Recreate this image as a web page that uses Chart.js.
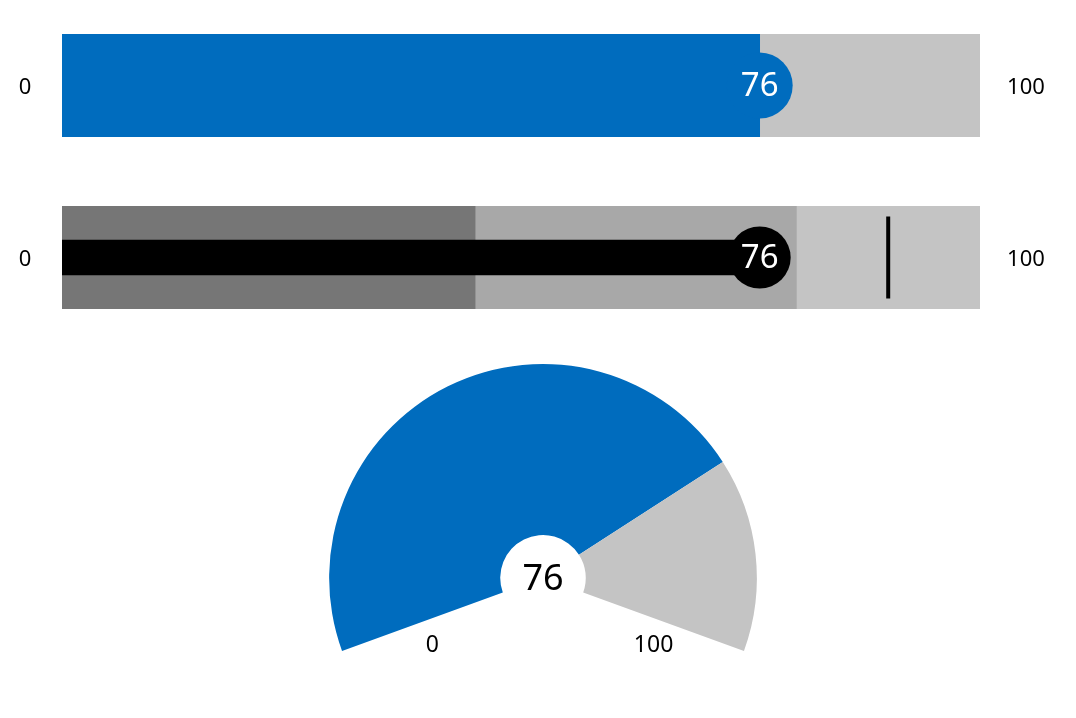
<!DOCTYPE html>
<html>
<head>
<meta charset="utf-8">
<script src="https://cdn.jsdelivr.net/npm/chart.js@4.4.0/dist/chart.umd.min.js"></script>
<style>
  body { margin: 0; background: #fff; }
  .box { position: absolute; left: 0; width: 1076px; }
</style>
</head>
<body>
<div class="box" style="top:0;height:172px"><canvas id="barGauge"></canvas></div>
<div class="box" style="top:172px;height:172px"><canvas id="bulletGauge"></canvas></div>
<div class="box" style="top:344px;height:374px"><canvas id="radialGauge"></canvas></div>
<script>
// gauge data
var minValue = 0;
var maxValue = 100;
var gaugeValue = [76];
var bandRanges = [[0, 45], [45, 80], [80, 100]];
var targetValue = [90];
var tickLabels = ['0', '100'];
var categories = ['value'];

var blue = '#006cbe';
var track = '#c4c4c4';
var bandColors = ['#767676', '#a8a8a8', '#c4c4c4'];
var fontFamily = "'Segoe UI', 'Noto Sans', sans-serif";

Chart.defaults.font.family = fontFamily;
Chart.defaults.animation = false;
Chart.defaults.plugins.legend.display = false;
Chart.defaults.plugins.tooltip.enabled = false;

// draws the min/max labels beside the chart area and the value over the knob
var sideLabels = {
    id: 'sideLabels',
    afterDatasetsDraw: function(chart, args, opts) {
        var ctx = chart.ctx;
        var area = chart.chartArea;
        var midY = (area.top + area.bottom) / 2;
        ctx.save();
        ctx.fillStyle = '#000';
        ctx.font = '22px ' + fontFamily;
        ctx.textAlign = 'center';
        ctx.textBaseline = 'middle';
        ctx.fillText(tickLabels[0], area.left - 37, midY + 2);
        ctx.fillText(tickLabels[1], area.right + 46, midY + 2);
        var knob = chart.getDatasetMeta(opts.knob).data[0];
        ctx.fillStyle = '#fff';
        ctx.font = '33px ' + fontFamily;
        ctx.fillText(String(gaugeValue[0]), knob.x, knob.y + 1);
        ctx.restore();
    }
};

function hiddenScales() {
    return {
        x: { display: false, min: minValue, max: maxValue },
        y: { display: false }
    };
}
function pad() {
    return { left: 62, right: 96, top: 34, bottom: 35 };
}

new Chart($id('barGauge'), {
    type: 'bar',
    data: {
        labels: categories,
        datasets: [
            { type: 'line', data: gaugeValue, showLine: false, pointRadius: 33,
              pointBackgroundColor: blue, pointBorderWidth: 0, order: 0 },
            { data: gaugeValue, backgroundColor: blue, grouped: false,
              barPercentage: 1, categoryPercentage: 1, order: 1 },
            { data: [maxValue], backgroundColor: track, grouped: false,
              barPercentage: 1, categoryPercentage: 1, order: 2 }
        ]
    },
    options: {
        indexAxis: 'y',
        responsive: true,
        maintainAspectRatio: false,
        layout: { padding: pad(), autoPadding: false },
        scales: hiddenScales(),
        plugins: { sideLabels: { knob: 0 } }
    },
    plugins: [sideLabels]
});

var bandSets = bandRanges.map(function(r, i) {
    return { data: [r], backgroundColor: bandColors[i], grouped: false,
             barPercentage: 1, categoryPercentage: 1, order: 5 };
});

new Chart($id('bulletGauge'), {
    type: 'bar',
    data: {
        labels: categories,
        datasets: [
            { type: 'line', data: gaugeValue, showLine: false, pointRadius: 31,
              pointBackgroundColor: '#000', pointBorderWidth: 0, order: 0 },
            { type: 'line', data: targetValue, showLine: false, pointStyle: 'line',
              pointRotation: 90, pointRadius: 41, pointBorderWidth: 4,
              pointBorderColor: '#000', order: 1 },
            { data: gaugeValue, backgroundColor: '#000', grouped: false,
              barThickness: 35, order: 2 }
        ].concat(bandSets)
    },
    options: {
        indexAxis: 'y',
        responsive: true,
        maintainAspectRatio: false,
        layout: { padding: pad(), autoPadding: false },
        scales: hiddenScales(),
        plugins: { sideLabels: { knob: 0 } }
    },
    plugins: [sideLabels]
});

var radialLabels = {
    id: 'radialLabels',
    afterDatasetsDraw: function(chart) {
        var ctx = chart.ctx;
        var meta = chart.getDatasetMeta(0);
        var first = meta.data[0];
        var last = meta.data[meta.data.length - 1];
        var cx = first.x, cy = first.y;
        var rMid = (first.innerRadius + first.outerRadius) / 2;
        ctx.save();
        ctx.fillStyle = '#000';
        ctx.textAlign = 'center';
        ctx.textBaseline = 'middle';
        ctx.font = '36px ' + fontFamily;
        ctx.fillText(String(gaugeValue[0]), cx, cy + 2);
        ctx.font = '23px ' + fontFamily;
        var a0 = first.startAngle, a1 = last.endAngle;
        ctx.fillText(tickLabels[0], cx + Math.cos(a0) * rMid + 10, cy + Math.sin(a0) * rMid + 24);
        ctx.fillText(tickLabels[1], cx + Math.cos(a1) * rMid - 10, cy + Math.sin(a1) * rMid + 24);
        ctx.restore();
    }
};

new Chart($id('radialGauge'), {
    type: 'doughnut',
    data: {
        labels: ['value', 'rest'],
        datasets: [{
            data: [gaugeValue[0] - minValue, maxValue - gaugeValue[0]],
            backgroundColor: [blue, track],
            borderWidth: 0
        }]
    },
    options: {
        responsive: true,
        maintainAspectRatio: false,
        rotation: -110,
        circumference: 220,
        cutout: '20%',
        layout: { padding: { left: 329, right: 319, top: 20, bottom: 67 } }
    },
    plugins: [radialLabels]
});

function $id(id) { return document.getElementById(id); }
</script>
</body>
</html>
